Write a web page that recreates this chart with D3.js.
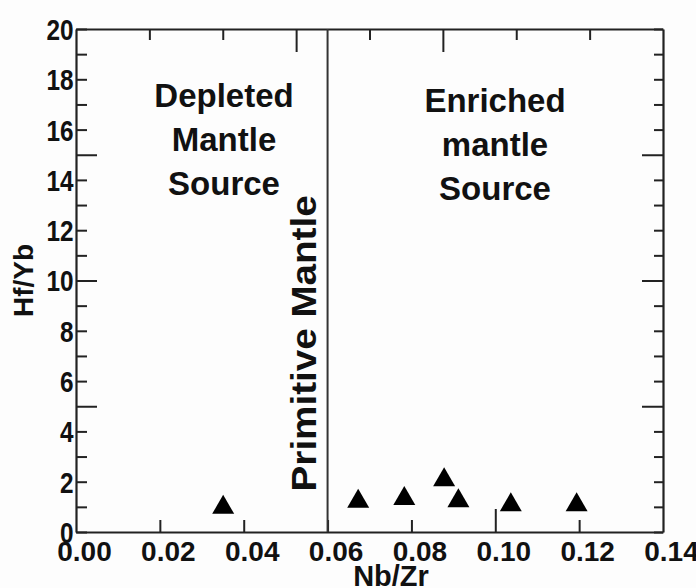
<!DOCTYPE html>
<html>
<head>
<meta charset="utf-8">
<script src="https://cdn.jsdelivr.net/npm/d3@7/dist/d3.min.js"></script>
<style>
  html, body { margin: 0; padding: 0; background: #fdfdfd; }
  svg { display: block; }
  .lbl { font-family: "Liberation Sans", Arial, sans-serif; font-weight: bold; fill: #111; }
  .tick text { font-family: "Liberation Sans", Arial, sans-serif; font-weight: bold; fill: #111; }
</style>
</head>
<body>
<script>
// Hf/Yb versus Nb/Zr discrimination diagram
const nbZr = [0.0351, 0.0673, 0.0783, 0.0878, 0.0912, 0.1037, 0.1194];
const hfYb = [1.10, 1.34, 1.45, 2.20, 1.36, 1.20, 1.20];
const primitiveMantleNbZr = 0.06;
const xTickLabels = ["0.00", "0.02", "0.04", "0.06", "0.08", "0.10", "0.12", "0.14"];
const yTickValues = d3.range(0, 21);
const depletedText = ["Depleted", "Mantle", "Source"];
const enrichedText = ["Enriched", "mantle", "Source"];

const W = 696, H = 588;
const svg = d3.select("body").append("svg").attr("width", W).attr("height", H);

const x = d3.scaleLinear().domain([0, 0.14]).range([76, 663]);
const y = d3.scaleLinear().domain([0, 20]).range([532, 29]);
const ink = "#222";

// Left axis: ticks point into the plot, every unit, longer at multiples of 5
const leftAxis = svg.append("g").attr("transform", `translate(${x(0)},0)`)
  .call(d3.axisLeft(y).tickValues(yTickValues).tickSizeInner(-11).tickSizeOuter(0).tickPadding(3)
    .tickFormat(d => d % 2 === 0 ? String(d) : ""));
// Right axis
const rightAxis = svg.append("g").attr("transform", `translate(${x(0.14)},0)`)
  .call(d3.axisRight(y).tickValues(yTickValues).tickSizeInner(-9).tickSizeOuter(0).tickFormat(""));
[leftAxis, rightAxis].forEach((g, i) => {
  g.selectAll(".tick line")
    .attr("x2", d => (i === 0 ? 1 : -1) * (d % 5 === 0 && d !== 0 && d !== 20 ? 21 : (i === 0 ? 11 : 9)));
});
// condensed numerals on the Hf/Yb scale
leftAxis.selectAll(".tick text").style("font-size", "29px").attr("dy", "0.36em")
  .attr("transform", "scale(0.84,1)");

// Bottom axis: inward ticks, labels shifted slightly right of ticks
const bottomAxis = svg.append("g").attr("transform", `translate(0,${y(0)})`)
  .call(d3.axisBottom(x).tickValues(xTickLabels.map(Number)).tickSizeInner(-12).tickSizeOuter(0).tickPadding(7)
    .tickFormat((d, i) => xTickLabels[i]));
bottomAxis.selectAll(".tick line").attr("y2", d => Math.abs(d - 0.10) < 1e-9 ? -23 : (d === 0 || d === 0.14 ? 0 : -12));
bottomAxis.selectAll(".tick text").style("font-size", "28px").attr("dx", 8).attr("dy", "0.78em");

// Top axis: eight divisions with inward ticks
const topTickValues = d3.range(1, 8).map(k => 0.0175 * k);
const topAxis = svg.append("g").attr("transform", `translate(0,${y(20)})`)
  .call(d3.axisTop(x).tickValues(topTickValues).tickSizeInner(-11).tickSizeOuter(0).tickFormat(""));
topAxis.selectAll(".tick line").attr("y2", (d, i) => (i === 2 || i === 4) ? 23 : 11);

svg.selectAll(".domain").attr("stroke", ink).attr("stroke-width", 2.2);
svg.selectAll(".tick line").attr("stroke", ink).attr("stroke-width", 2);

// Primitive mantle divider
svg.append("line")
  .attr("x1", x(primitiveMantleNbZr)).attr("x2", x(primitiveMantleNbZr))
  .attr("y1", y(0)).attr("y2", y(20))
  .attr("stroke", "#333").attr("stroke-width", 2);

// Field labels
function block(lines, cx, baseY) {
  svg.append("text").attr("class", "lbl").attr("text-anchor", "middle")
    .style("font-size", "33px")
    .selectAll("tspan").data(lines).join("tspan")
    .attr("x", cx).attr("y", (d, i) => baseY + i * 44).text(d => d);
}
block(depletedText, 224, 107);
block(enrichedText, 495, 112);

svg.append("text").attr("class", "lbl")
  .attr("transform", `translate(316,${y(7.5)}) rotate(-90)`)
  .attr("text-anchor", "middle").style("font-size", "35px")
  .attr("textLength", 296).attr("lengthAdjust", "spacingAndGlyphs")
  .text("Primitive Mantle");

// Axis titles
svg.append("text").attr("class", "lbl")
  .attr("transform", `translate(33,${y(10)}) rotate(-90)`)
  .attr("text-anchor", "middle").style("font-size", "28px").text("Hf/Yb");
svg.append("text").attr("class", "lbl")
  .attr("x", 391).attr("y", 586)
  .attr("text-anchor", "middle").style("font-size", "29px").text("Nb/Zr");

// Samples: filled triangles, bounding box centred on each value
const side = 22, th = side * Math.sqrt(3) / 2;
const tri = `M0,${-th / 2}L${side / 2},${th / 2}L${-side / 2},${th / 2}Z`;
svg.append("g").selectAll("path").data(nbZr.map((v, i) => [v, hfYb[i]])).join("path")
  .attr("d", tri)
  .attr("transform", d => `translate(${x(d[0])},${y(d[1])})`)
  .attr("fill", "#000");
</script>
</body>
</html>
